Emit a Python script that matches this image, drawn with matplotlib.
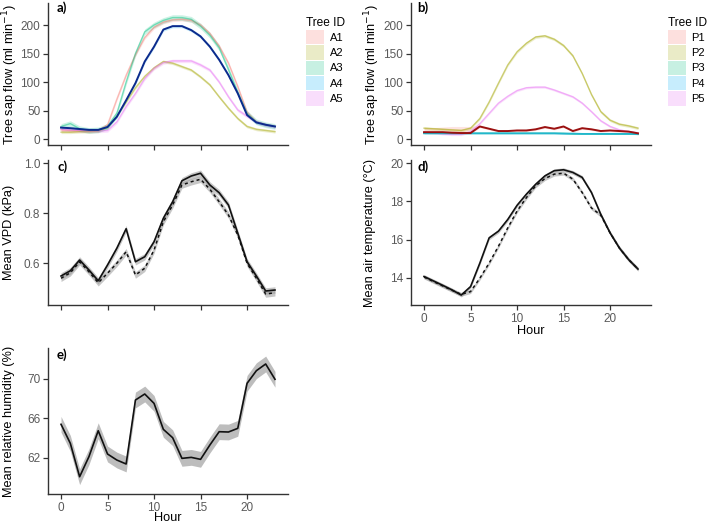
import matplotlib
matplotlib.use("Agg")
import matplotlib.pyplot as plt
from matplotlib.patches import Patch
import numpy as np

hours = list(range(24))

# Panel a: sap flow, trees A1-A5 (ml/min)
A1 = [16, 15, 15, 14, 15, 25, 70, 112, 148, 178, 196, 205, 209, 210, 208, 200, 185, 163, 133, 92, 47, 30, 25, 22]
A2 = [12, 12, 13, 13, 14, 20, 40, 65, 90, 110, 125, 136, 133, 127, 121, 109, 95, 74, 54, 36, 22, 17, 15, 13]
A3 = [22, 27, 18, 15, 16, 22, 45, 100, 150, 188, 200, 208, 213, 213, 210, 198, 182, 160, 122, 82, 45, 30, 25, 22]
A4 = [20, 19, 17.5, 16, 16, 21, 39, 68, 98, 136, 162, 192, 198, 198, 191, 180, 162, 139, 112, 80, 42, 29, 25, 22]
A5 = [17, 16, 15, 14, 14, 15, 30, 57, 80, 106, 124, 134, 137, 137, 137, 130, 121, 100, 74, 51, 40, 30, 25, 22]
A_se = [3, 2.5, 5, 3, 3]

# Panel b: sap flow, trees P1-P5 (ml/min)
P1 = [12, 12, 12, 11, 10.5, 10.5, 22, 18, 14, 14, 15, 15, 17, 21, 18, 22, 14, 19, 17, 14, 15, 14, 13, 10]
P1_hi = [20, 20, 21, 22, 22, 22, 24, 20, 16, 16, 17, 17, 19, 23, 20, 24, 16, 21, 19, 16, 17, 16, 15, 12]
P2 = [19, 18, 17, 16, 15, 19, 36, 65, 98, 130, 153, 168, 179, 181, 175, 164, 146, 115, 78, 48, 33, 26, 23, 19]
P3 = [10, 10, 10, 10, 10, 10, 10, 10, 10, 10, 10, 10, 10, 10, 10, 10, 9, 9, 9, 9, 9, 9, 9, 9]
P4 = [10, 10, 10, 10, 10, 10, 10, 10, 10, 10, 10, 10, 10, 10, 10, 9.5, 9.5, 9, 9, 9, 9, 9, 9, 8.5]
P5 = [12, 11, 9, 8, 8, 13, 27, 45, 63, 75, 85, 90, 91, 91, 86, 80, 74, 63, 48, 32, 22, 16, 13, 11]
P_se = [2, 2.5, 1, 1, 2]

# Panel c: VPD (kPa), solid and dashed series
vpd_solid = [0.548, 0.569, 0.612, 0.572, 0.529, 0.592, 0.659, 0.737, 0.605, 0.625, 0.685, 0.779,
             0.845, 0.929, 0.948, 0.959, 0.912, 0.881, 0.832, 0.719, 0.605, 0.548, 0.488, 0.492]
vpd_dash = [0.539, 0.561, 0.605, 0.565, 0.521, 0.559, 0.599, 0.645, 0.552, 0.579, 0.652, 0.765,
            0.832, 0.912, 0.925, 0.935, 0.895, 0.845, 0.792, 0.712, 0.599, 0.539, 0.476, 0.481]
vpd_se = 0.013

# Panel d: air temperature (°C)
temp_solid = [14.07, 13.84, 13.61, 13.37, 13.10, 13.54, 14.77, 16.09, 16.44, 17.05, 17.79, 18.37,
              18.89, 19.33, 19.60, 19.65, 19.51, 19.25, 18.46, 17.32, 16.35, 15.56, 14.95, 14.46]
temp_dash = [14.04, 13.81, 13.58, 13.35, 13.14, 13.28, 13.98, 14.77, 15.65, 16.61, 17.49, 18.19,
             18.81, 19.19, 19.42, 19.47, 19.16, 18.46, 17.65, 17.28, 16.35, 15.56, 14.95, 14.46]
temp_se = 0.1

# Panel e: relative humidity (%)
rh = [65.41, 63.48, 60.10, 62.13, 64.76, 62.40, 61.79, 61.39, 67.87, 68.48, 67.53, 64.90,
      64.05, 61.96, 62.06, 61.86, 63.31, 64.66, 64.63, 65.00, 69.56, 70.84, 71.52, 69.97]
rh_se = 0.8

A_ids = ["A1", "A2", "A3", "A4", "A5"]
P_ids = ["P1", "P2", "P3", "P4", "P5"]
hue = ["#F8766D", "#A3A500", "#00BF7D", "#00B0F6", "#E76BF3"]

W, H = 709, 524
fig = plt.figure(figsize=(W / 100, H / 100), dpi=100)
plt.rcParams['font.family'] = ['Liberation Sans', 'DejaVu Sans']

TICK_C = "#5a5a5a"
LAB_FS = 9.2


def make_ax(left, top, right, bottom):
    ax = fig.add_axes([left / W, 1 - bottom / H, (right - left) / W, (bottom - top) / H])
    for s in ["top", "right"]:
        ax.spines[s].set_visible(False)
    for s in ["left", "bottom"]:
        ax.spines[s].set_color("#333333")
        ax.spines[s].set_linewidth(1.0)
    ax.tick_params(axis="both", colors="#333333", labelcolor=TICK_C, labelsize=8.5,
                   length=3.5, width=0.9, pad=2)
    ax.set_xlim(-1.4, 24.4)
    ax.set_xticks([0, 5, 10, 15, 20])
    return ax


def set_xlabel_px(ax, text, center_px, bottom_px, height_px):
    ax.set_xlabel(text, fontsize=LAB_FS, va="center")
    ax.xaxis.set_label_coords(0.5, -(center_px - bottom_px) / height_px)


legend_kw = dict(title="Tree ID", loc="upper left", bbox_transform=fig.transFigure, frameon=False,
                 fontsize=8, title_fontsize=8.6, handlelength=1.62, handleheight=1.62,
                 labelspacing=0.08, handletextpad=0.5, borderpad=0, borderaxespad=0,
                 alignment="left")

# ---------- Panel a ----------
axa = make_ax(48, 3, 288, 145)
axa.set_ylim(-10.5, 238.6)
axa.set_yticks([0, 50, 100, 150, 200])
axa.set_xticklabels([])
A_all = [A1, A2, A3, A4, A5]
for i, (vals, c) in enumerate(zip(A_all, hue)):
    v = np.array(vals, dtype=float)
    se = A_se[i]
    axa.fill_between(hours, v - se, v + se, color=c, alpha=0.2, lw=0)
for i, (vals, c) in enumerate(zip(A_all, hue)):
    if i == 3:
        continue
    axa.plot(hours, vals, color=c, alpha=0.45, lw=1.0)
axa.plot(hours, A4, color="#0B2A8C", lw=1.4)
axa.set_ylabel("Tree sap flow (ml min$^{-1}$)", fontsize=LAB_FS)
axa.yaxis.set_label_coords((20 - 48) / 240, 0.5)
axa.legend([Patch(facecolor=c, alpha=0.22, edgecolor="none") for c in hue], A_ids,
           bbox_to_anchor=(306 / W, 1 - 17 / H), **legend_kw)

# ---------- Panel b ----------
axb = make_ax(411, 3, 651, 145)
axb.set_ylim(-10.5, 238.6)
axb.set_yticks([0, 50, 100, 150, 200])
axb.set_xticklabels([])
P_all = [P1, P2, P3, P4, P5]
for i, (vals, c) in enumerate(zip(P_all, hue)):
    v = np.array(vals, dtype=float)
    se = P_se[i]
    if i == 0:
        axb.fill_between(hours, v - se, P1_hi, color=c, alpha=0.2, lw=0)
    else:
        axb.fill_between(hours, v - se, v + se, color=c, alpha=0.2, lw=0)
axb.plot(hours, P2, color=hue[1], alpha=0.5, lw=1.0)
axb.plot(hours, P5, color=hue[4], alpha=0.45, lw=1.0)
axb.plot(hours, P3, color=hue[2], alpha=0.6, lw=1.0)
axb.plot(hours, P4, color="#21B6CC", lw=1.3)
axb.plot(hours, P1, color="#9A1010", lw=1.4)
axb.set_ylabel("Tree sap flow (ml min$^{-1}$)", fontsize=LAB_FS)
axb.yaxis.set_label_coords((382 - 411) / 240, 0.5)
axb.legend([Patch(facecolor=c, alpha=0.22, edgecolor="none") for c in hue], P_ids,
           bbox_to_anchor=(668 / W, 1 - 17 / H), **legend_kw)

# ---------- Panel c ----------
axc = make_ax(48, 160, 288, 305)
axc.set_ylim(0.432, 1.012)
axc.set_yticks([0.6, 0.8, 1.0])
axc.set_yticklabels(["0.6", "0.8", "1.0"])
axc.set_xticklabels([])
vs = np.array(vpd_solid)
vd = np.array(vpd_dash)
axc.fill_between(hours, vs - vpd_se, vs + vpd_se, color="#9a9a9a", alpha=0.55, lw=0)
axc.fill_between(hours, vd - vpd_se, vd + vpd_se, color="#9a9a9a", alpha=0.55, lw=0)
axc.plot(hours, vpd_solid, color="#111111", lw=1.2)
axc.plot(hours, vpd_dash, color="#111111", lw=1.1, dashes=(2, 2))
axc.set_ylabel("Mean VPD (kPa)", fontsize=LAB_FS)
axc.yaxis.set_label_coords((15 - 48) / 240, 0.5)

# ---------- Panel d ----------
axd = make_ax(411, 160, 651, 305)
axd.set_ylim(12.58, 20.16)
axd.set_yticks([14, 16, 18, 20])
ts = np.array(temp_solid)
td = np.array(temp_dash)
axd.fill_between(hours, ts - temp_se, ts + temp_se, color="#9a9a9a", alpha=0.55, lw=0)
axd.fill_between(hours, td - temp_se, td + temp_se, color="#9a9a9a", alpha=0.55, lw=0)
axd.plot(hours, temp_solid, color="#111111", lw=1.2)
axd.plot(hours, temp_dash, color="#111111", lw=1.1, dashes=(2, 2))
axd.set_ylabel("Mean air temperature (°C)", fontsize=LAB_FS)
axd.yaxis.set_label_coords((376 - 411) / 240, 0.5)
set_xlabel_px(axd, "Hour", 331, 305, 145)

# ---------- Panel e ----------
axe = make_ax(48, 348, 288, 494)
axe.set_ylim(58.35, 73.14)
axe.set_yticks([62, 66, 70])
r = np.array(rh)
axe.fill_between(hours, r - rh_se, r + rh_se, color="#9a9a9a", alpha=0.65, lw=0)
axe.plot(hours, rh, color="#111111", lw=1.2)
axe.set_ylabel("Mean relative humidity (%)", fontsize=LAB_FS)
axe.yaxis.set_label_coords((15 - 48) / 240, 0.5)
set_xlabel_px(axe, "Hour", 518, 494, 146)

# Panel letters
for lab, x, y in [("a)", 57, 8), ("b)", 417, 8), ("c)", 57, 167), ("d)", 417, 167), ("e)", 57, 355)]:
    fig.text(x / W, 1 - y / H, lab, fontsize=9.5, fontweight="bold", family=["Lato", "DejaVu Sans"],
             va="center", ha="left")

fig.savefig("out.png", dpi=100)
